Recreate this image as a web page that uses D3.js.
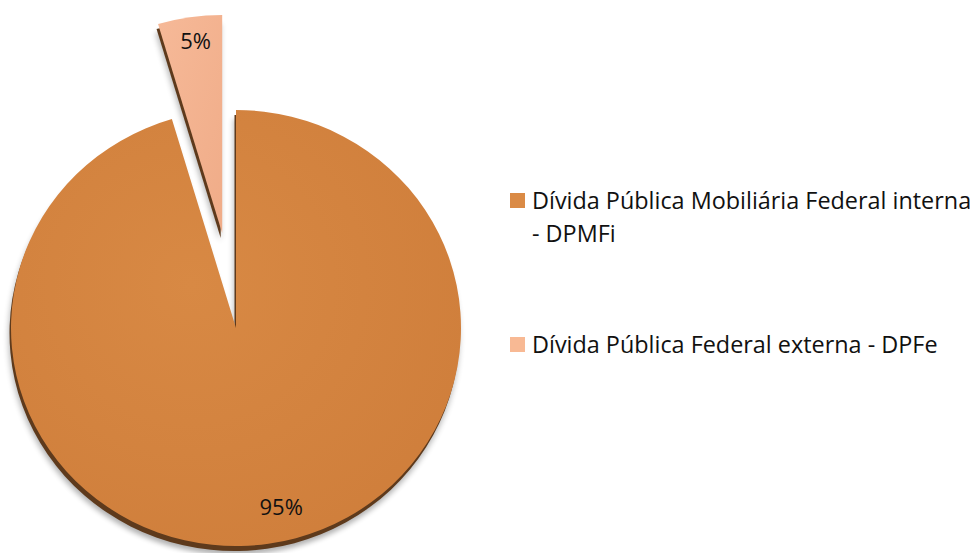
<!DOCTYPE html>
<html>
<head>
<meta charset="utf-8">
<script src="https://d3js.org/d3.v7.min.js"></script>
<style>
  body { margin: 0; background: #fff; }
  text { font-family: "Open Sans", "Liberation Sans", sans-serif; }
</style>
</head>
<body>
<div id="chart"></div>
<script>
  // data
  var labels = ["Dívida Pública Mobiliária Federal interna - DPMFi", "Dívida Pública Federal externa - DPFe"];
  var values = [95.4, 4.6];
  var legendColors = ["#DA8A45", "#F8B994"];
  var legendLines = [["Dívida Pública Mobiliária Federal interna", "- DPMFi"], ["Dívida Pública Federal externa - DPFe"]];

  var width = 972, height = 553;
  var cx = 236, cy = 328, rx = 225, ry = 218;
  var explode = 96;

  var svg = d3.select("#chart").append("svg")
      .attr("width", width)
      .attr("height", height);

  var defs = svg.append("defs");
  var blur = defs.append("filter").attr("id", "soft")
      .attr("x", "-10%").attr("y", "-10%").attr("width", "120%").attr("height", "120%");
  blur.append("feGaussianBlur").attr("stdDeviation", 3);

  var grad = defs.append("radialGradient").attr("id", "g0")
      .attr("cx", "40%").attr("cy", "40%").attr("r", "70%");
  grad.append("stop").attr("offset", "0%").attr("stop-color", "#D88944");
  grad.append("stop").attr("offset", "100%").attr("stop-color", "#CF7E3B");

  var grad1 = defs.append("linearGradient").attr("id", "g1")
      .attr("x1", "0").attr("y1", "0").attr("x2", "1").attr("y2", "1");
  grad1.append("stop").attr("offset", "0%").attr("stop-color", "#F6B998");
  grad1.append("stop").attr("offset", "100%").attr("stop-color", "#F0AC88");

  var pie = d3.pie().sort(null).startAngle(0).endAngle(2 * Math.PI);
  var arcs = pie(values);
  // small slice sits just before 12 o'clock
  var big = arcs[0], small = arcs[1];
  var span = small.endAngle - small.startAngle;
  big.startAngle = 0; big.endAngle = 2 * Math.PI - span;
  small.startAngle = -span; small.endAngle = 0;

  var arc = d3.arc().innerRadius(0).outerRadius(rx);
  var sy = ry / rx;

  function offset(d) {
    if (d.index === 0) return [0, 0];
    var a = (d.startAngle + d.endAngle) / 2;
    return [Math.sin(a) * explode, -Math.cos(a) * explode];
  }

  var slices = [big, small];

  // soft grey shadow
  svg.append("g").selectAll("path").data(slices).enter().append("path")
      .attr("transform", function(d) {
        var o = offset(d);
        return "translate(" + (cx + o[0] - 2) + "," + (cy + o[1] + 9) + ") scale(1," + sy + ")";
      })
      .attr("d", arc)
      .attr("fill", "#000")
      .attr("opacity", 0.3)
      .attr("filter", "url(#soft)");

  // dark bevel edge
  svg.append("g").selectAll("path").data(slices).enter().append("path")
      .attr("transform", function(d) {
        var o = offset(d);
        return "translate(" + (cx + o[0] - 1.5) + "," + (cy + o[1] + 5) + ") scale(1," + sy + ")";
      })
      .attr("d", arc)
      .attr("fill", "#5E3A1C");

  // slices
  svg.append("g").selectAll("path").data(slices).enter().append("path")
      .attr("transform", function(d) {
        var o = offset(d);
        return "translate(" + (cx + o[0]) + "," + (cy + o[1]) + ") scale(1," + sy + ")";
      })
      .attr("d", arc)
      .attr("fill", function(d) { return d.index === 0 ? "url(#g0)" : "url(#g1)"; });

  // percent labels
  var labelR = [0.84, 0.88];
  svg.append("g").selectAll("text").data(slices).enter().append("text")
      .attr("x", function(d) {
        var a = (d.startAngle + d.endAngle) / 2;
        return cx + offset(d)[0] + Math.sin(a) * rx * labelR[d.index] + (d.index === 0 ? 18 : 2);
      })
      .attr("y", function(d) {
        var a = (d.startAngle + d.endAngle) / 2;
        return cy + offset(d)[1] - Math.cos(a) * ry * labelR[d.index] + 6;
      })
      .attr("text-anchor", "middle")
      .attr("font-size", 22)
      .attr("fill", "#111")
      .text(function(d) { return Math.round(d.value) + "%"; });

  // legend
  var legendY = [193, 337];
  var legend = svg.append("g").selectAll("g").data(labels).enter().append("g")
      .attr("transform", function(d, i) { return "translate(510," + legendY[i] + ")"; });

  legend.append("rect")
      .attr("width", 15).attr("height", 15)
      .attr("fill", function(d, i) { return legendColors[i]; });

  legend.append("text")
      .attr("y", 16)
      .attr("font-size", 23.4)
      .attr("fill", "#111")
      .selectAll("tspan")
      .data(function(d, i) { return legendLines[i]; })
      .enter().append("tspan")
      .attr("x", 22)
      .attr("dy", function(d, j) { return j === 0 ? 0 : 33; })
      .text(function(d) { return d; });
</script>
</body>
</html>
